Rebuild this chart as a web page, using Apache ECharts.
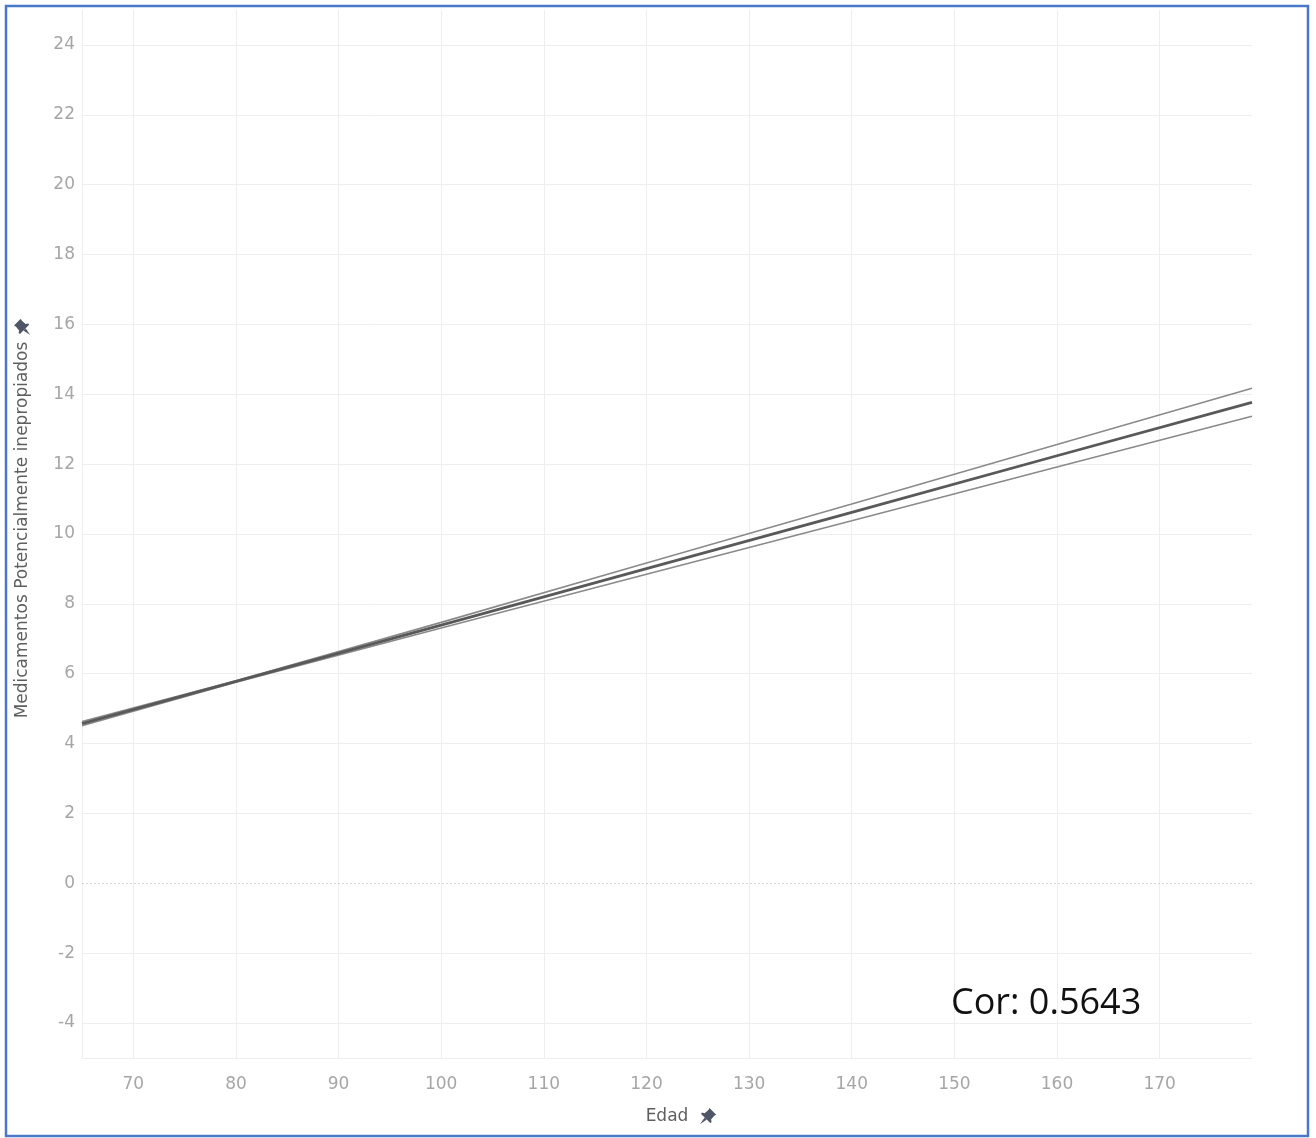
<!DOCTYPE html>
<html>
<head>
<meta charset="utf-8">
<script src="https://cdn.jsdelivr.net/npm/echarts@6/dist/echarts.min.js"></script>
<style>
  html, body { margin: 0; padding: 0; background: #ffffff; }
  #chart { width: 1316px; height: 1138px; }
</style>
</head>
<body>
<div id="chart"></div>
<script>
// Edad (x) and fitted trend line with its confidence band
const edad = [65, 80, 100, 120, 140, 160, 179];
const tendencia = [4.57, 5.78, 7.39, 9.01, 10.62, 12.24, 13.77];
const limiteSuperior = [4.63, 5.80, 7.47, 9.17, 10.86, 12.56, 14.17];
const limiteInferior = [4.51, 5.76, 7.31, 8.85, 10.38, 11.92, 13.37];

// Gridline positions
const xTicks = [70, 80, 90, 100, 110, 120, 130, 140, 150, 160, 170];
const yTicks = [-4, -2, 2, 4, 6, 8, 10, 12, 14, 16, 18, 20, 22, 24];

const correlacion = 'Cor: 0.5643';
const tituloX = 'Edad';
const tituloY = 'Medicamentos Potencialmente inepropiados';

const pair = (xs, ys) => xs.map((x, i) => [x, ys[i]]);

// Small pushpin icon drawn next to each axis title
const pinHead = [[7, 0], [12, 5], [10.5, 5.8], [8.2, 8.6], [8.6, 10.6], [7.6, 11.2], [0.8, 4.4], [1.4, 3.4], [3.4, 3.8], [6.2, 1.5]];
const pinNeedle = [[3.4, 7.0], [0, 12], [5.0, 8.6]];
const pin = (x, y, rotation) => ({
  type: 'group',
  x: x,
  y: y,
  scaleX: 1.35,
  scaleY: 1.35,
  rotation: rotation || 0,
  silent: true,
  z: 10,
  children: [
    { type: 'polygon', shape: { points: pinHead }, style: { fill: '#4f5668' } },
    { type: 'polygon', shape: { points: pinNeedle }, style: { fill: '#4f5668' } }
  ]
});

const chart = echarts.init(document.getElementById('chart'), null, { renderer: 'canvas' });

const gridLineStyle = { color: '#eeeeee', width: 1, type: 'solid' };
const tickFont = { color: '#a6a6a6', fontFamily: 'DejaVu Sans', fontSize: 17 };

chart.setOption({
  animation: false,
  backgroundColor: '#ffffff',
  grid: { left: 82, right: 64, top: 10, bottom: 80, containLabel: false },
  xAxis: {
    type: 'value',
    min: 65,
    max: 179,
    interval: 5,
    axisLine: { show: false },
    axisTick: { show: false },
    splitLine: { show: false },
    axisLabel: Object.assign({}, tickFont, {
      margin: 18,
      showMinLabel: false,
      showMaxLabel: false,
      formatter: v => (v % 10 === 0 ? String(v) : '')
    })
  },
  yAxis: {
    type: 'value',
    min: -5,
    max: 25,
    interval: 1,
    axisLine: { show: false },
    axisTick: { show: false },
    splitLine: { show: false },
    axisLabel: Object.assign({}, tickFont, {
      margin: 7,
      showMinLabel: false,
      showMaxLabel: false,
      formatter: v => (v % 2 === 0 ? String(v) : '')
    })
  },
  series: [
    {
      name: 'grid',
      type: 'line',
      data: [],
      silent: true,
      z: 0,
      markLine: {
        silent: true,
        z: 0,
        symbol: 'none',
        label: { show: false },
        lineStyle: gridLineStyle,
        data: [
          ...xTicks.map(v => ({ xAxis: v })),
          { xAxis: 65 },
          ...yTicks.map(v => ({ yAxis: v })),
          { yAxis: -5 },
          { yAxis: 0, lineStyle: { color: '#d6d6d6', width: 1, type: [2, 2] } }
        ]
      }
    },
    {
      name: 'Límite superior',
      type: 'line',
      data: pair(edad, limiteSuperior),
      showSymbol: false,
      lineStyle: { color: '#8a8a8a', width: 1.6 },
      z: 3
    },
    {
      name: 'Límite inferior',
      type: 'line',
      data: pair(edad, limiteInferior),
      showSymbol: false,
      lineStyle: { color: '#8a8a8a', width: 1.6 },
      z: 3
    },
    {
      name: 'Tendencia',
      type: 'line',
      data: pair(edad, tendencia),
      showSymbol: false,
      lineStyle: { color: '#595959', width: 2.8 },
      z: 4
    }
  ],
  graphic: [
    {
      type: 'rect',
      shape: { x: 6, y: 6, width: 1302, height: 1130 },
      style: { fill: 'none', stroke: '#4a78c8', lineWidth: 2.5 },
      silent: true,
      z: 10
    },
    {
      type: 'text',
      x: 951,
      y: 1004,
      z: 10,
      style: {
        text: correlacion,
        fill: '#111111',
        font: '36px "Open Sans"',
        verticalAlign: 'middle',
        align: 'left'
      }
    },
    {
      type: 'text',
      x: 667,
      y: 1117,
      z: 10,
      style: {
        text: tituloX,
        fill: '#5f5f5f',
        font: '17px "DejaVu Sans"',
        align: 'center',
        verticalAlign: 'middle'
      }
    },
    pin(700, 1108, 0),
    {
      type: 'text',
      x: 23,
      y: 530,
      rotation: Math.PI / 2,
      z: 10,
      style: {
        text: tituloY,
        fill: '#5f5f5f',
        font: '17px "DejaVu Sans"',
        align: 'center',
        verticalAlign: 'middle'
      }
    },
    pin(14, 335, Math.PI / 2)
  ]
});
</script>
</body>
</html>
